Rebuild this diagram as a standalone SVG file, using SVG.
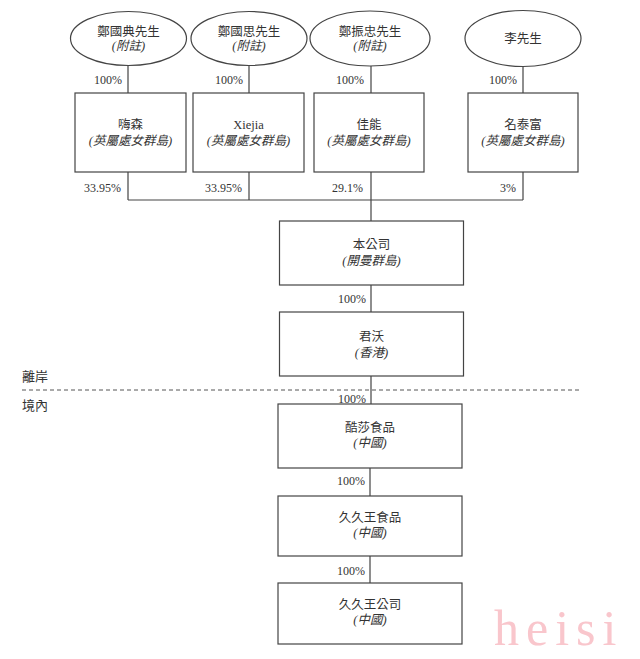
<svg xmlns="http://www.w3.org/2000/svg" width="640" height="659" viewBox="0 0 640 659">
<style>
text{font-family:"Liberation Serif","Noto Sans CJK TC",serif;fill:#333;font-size:12.5px;text-anchor:middle}
.it{font-style:italic}
.pct{font-size:12px;text-anchor:end}
.side{text-anchor:start;font-size:13px}
.n{fill:#fff;stroke:#444;stroke-width:1.2}
.c{fill:none;stroke:#444;stroke-width:1.2}
.wm{font-family:"Liberation Serif",serif;font-size:50px;fill:#f9c6cc;text-anchor:start;letter-spacing:7px}
</style>
<rect width="640" height="659" fill="#fff"/>
<g id="connectors">
<path class="c" d="M128,65V93M249,65V93M371,66V93M523,67V93"/>
<path class="c" d="M128,172V200M249,172V200M371,172V221M523,172V200M128,200H523"/>
<path class="c" d="M371,285V312M371,376V404M370,468V496M370,556V583"/>
<path d="M22,390H582" fill="none" stroke="#555" stroke-width="1" stroke-dasharray="4,3"/>
</g>
<g id="labels">
<text class="pct" x="122" y="84">100%</text>
<text class="pct" x="243" y="84">100%</text>
<text class="pct" x="364" y="84">100%</text>
<text class="pct" x="517" y="84">100%</text>
<text class="pct" x="121" y="192">33.95%</text>
<text class="pct" x="242" y="192">33.95%</text>
<text class="pct" x="363" y="192">29.1%</text>
<text class="pct" x="516" y="192">3%</text>
<text class="pct" x="366" y="303">100%</text>
<text class="pct" x="366" y="403">100%</text>
<text class="pct" x="365" y="485">100%</text>
<text class="pct" x="365" y="575">100%</text>
<text class="side" x="22" y="381">離岸</text>
<text class="side" x="22" y="410">境內</text>
</g>
<g id="n-zheng-guodian"><ellipse class="n" cx="128.5" cy="38.5" rx="58" ry="27"/><text x="128.5" y="36">鄭國典先生</text><text class="it" x="128.5" y="50">(附註)</text></g>
<g id="n-zheng-guosi"><ellipse class="n" cx="249" cy="38.5" rx="58" ry="27"/><text x="249" y="36">鄭國思先生</text><text class="it" x="249" y="50">(附註)</text></g>
<g id="n-zheng-zhenzhong"><ellipse class="n" cx="370" cy="38.5" rx="60" ry="27.5"/><text x="370" y="36">鄭振忠先生</text><text class="it" x="370" y="50">(附註)</text></g>
<g id="n-li"><ellipse class="n" cx="523" cy="38.5" rx="58" ry="28"/><text x="523" y="43">李先生</text></g>
<g id="n-haisen"><rect class="n" x="75" y="93" width="111" height="79"/><text x="130.5" y="129">嗨森</text><text class="it" x="130.5" y="145">(英屬處女群島)</text></g>
<g id="n-xiejia"><rect class="n" x="193" y="93" width="111" height="79"/><text x="248.5" y="129">Xiejia</text><text class="it" x="248.5" y="145">(英屬處女群島)</text></g>
<g id="n-jianeng"><rect class="n" x="314" y="93" width="110" height="79"/><text x="369" y="129">佳能</text><text class="it" x="369" y="145">(英屬處女群島)</text></g>
<g id="n-mingtaifu"><rect class="n" x="468" y="93" width="110" height="79"/><text x="523" y="129">名泰富</text><text class="it" x="523" y="145">(英屬處女群島)</text></g>
<g id="n-company"><rect class="n" x="279.5" y="221" width="184" height="64"/><text x="371.5" y="249">本公司</text><text class="it" x="371.5" y="265">(開曼群島)</text></g>
<g id="n-junwo"><rect class="n" x="279.5" y="312" width="184" height="64"/><text x="371.5" y="341">君沃</text><text class="it" x="371.5" y="357">(香港)</text></g>
<g id="n-kusha"><rect class="n" x="278" y="404" width="184" height="64"/><text x="370" y="432">酷莎食品</text><text class="it" x="370" y="447">(中國)</text></g>
<g id="n-jjw-food"><rect class="n" x="278" y="496" width="184" height="60"/><text x="370" y="522">久久王食品</text><text class="it" x="370" y="537">(中國)</text></g>
<g id="n-jjw-co"><rect class="n" x="278" y="583" width="184" height="61"/><text x="370" y="609">久久王公司</text><text class="it" x="370" y="624">(中國)</text></g>
<text class="wm" x="494" y="645">heisi</text>
</svg>
